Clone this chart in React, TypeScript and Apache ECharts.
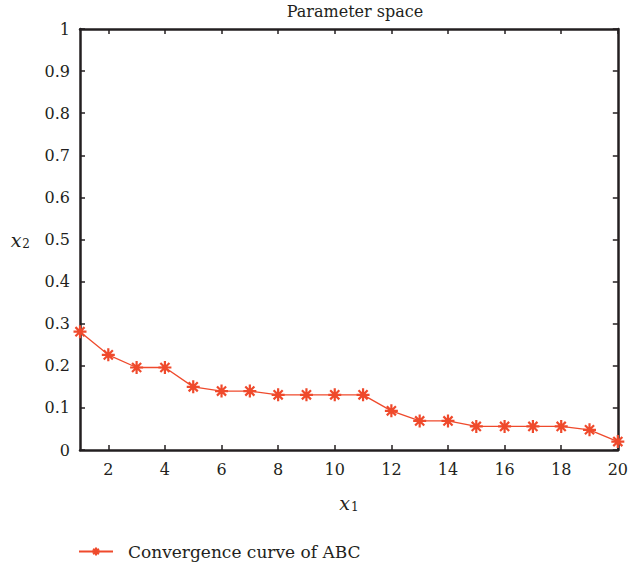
import React, { useEffect, useRef } from "react";
import * as echarts from "echarts";

const xValues = [1, 2, 3, 4, 5, 6, 7, 8, 9, 10, 11, 12, 13, 14, 15, 16, 17, 18, 19, 20];
const yValues = [0.281, 0.226, 0.196, 0.196, 0.15, 0.14, 0.14, 0.131, 0.131, 0.131, 0.131, 0.093, 0.069, 0.069, 0.056, 0.056, 0.056, 0.056, 0.048, 0.02];
const xTickValues = [2, 4, 6, 8, 10, 12, 14, 16, 18, 20];
const seriesName = "Convergence curve of ABC";
const titleText = "Parameter space";

const FONT = "DejaVu Serif";
const TEXT = "#231f20";
const RED = "#ef4a2c";
const STAR = "path://M0,-10L0,10M-10,0L10,0M-7,-7L7,7M-7,7L7,-7";

export default function App() {
  const ref = useRef<HTMLDivElement>(null);
  useEffect(() => {
    const chart = echarts.init(ref.current!, null, { renderer: "svg" });
    const axisLine = { show: true, onZero: false, lineStyle: { color: TEXT, width: 2.5 } };
    const tick = { lineStyle: { color: TEXT, width: 1.5 }, length: 5, inside: true };
    const nameRich = {
      i: { fontFamily: FONT, fontStyle: "italic", fontSize: 19, color: TEXT },
      s: { fontFamily: FONT, fontSize: 12, color: TEXT, verticalAlign: "bottom", padding: [9, 0, 0, 1] },
    };
    chart.setOption({
      animation: false,
      backgroundColor: "#fff",
      textStyle: { fontFamily: FONT, color: TEXT },
      title: {
        text: titleText,
        left: 350,
        textAlign: "center",
        top: -2,
        textStyle: { fontFamily: FONT, fontSize: 16, fontWeight: "normal", color: TEXT },
      },
      legend: {
        data: [seriesName],
        left: 73,
        top: 538,
        itemWidth: 34,
        itemHeight: 10,
        textStyle: { fontFamily: FONT, fontSize: 17, color: TEXT, padding: [0, 0, 0, 10] },
      },
      grid: { left: 80, right: 11, top: 29, bottom: 115, containLabel: false },
      xAxis: [
        {
          type: "value",
          min: 1,
          max: 20,
          position: "bottom",
          name: "{i|x}{s|1}",
          nameLocation: "middle",
          nameGap: 42,
          nameTextStyle: { rich: nameRich },
          axisLine,
          axisTick: { ...tick, customValues: xTickValues },
          axisLabel: { customValues: xTickValues, fontFamily: FONT, fontSize: 16, color: TEXT, margin: 11 },
          splitLine: { show: false },
        },
        {
          type: "value",
          min: 1,
          max: 20,
          position: "top",
          axisLine,
          axisTick: { ...tick, customValues: xTickValues },
          axisLabel: { show: false },
          splitLine: { show: false },
        },
      ],
      yAxis: [
        {
          type: "value",
          min: 0,
          max: 1,
          interval: 0.1,
          position: "left",
          name: "{i|x}{s|2}",
          nameLocation: "middle",
          nameRotate: 0,
          nameGap: 50,
          nameTextStyle: { rich: nameRich },
          axisLine,
          axisTick: tick,
          axisLabel: {
            fontFamily: FONT,
            fontSize: 16,
            color: TEXT,
            margin: 10,
            formatter: (v: number) => String(+v.toFixed(1)),
          },
          splitLine: { show: false },
        },
        {
          type: "value",
          min: 0,
          max: 1,
          interval: 0.1,
          position: "right",
          axisLine,
          axisTick: tick,
          axisLabel: { show: false },
          splitLine: { show: false },
        },
      ],
      series: [
        {
          name: seriesName,
          type: "line",
          data: xValues.map((x, i) => [x, yValues[i]]),
          symbol: STAR,
          symbolSize: 13,
          showAllSymbol: true,
          clip: false,
          lineStyle: { color: RED, width: 1.3 },
          itemStyle: { color: "transparent", borderColor: RED, borderWidth: 2.2 },
          z: 5,
        },
      ],
    });
    return () => chart.dispose();
  }, []);
  return <div ref={ref} style={{ position: "fixed", left: 0, top: 0, width: 631, height: 565 }} />;
}
